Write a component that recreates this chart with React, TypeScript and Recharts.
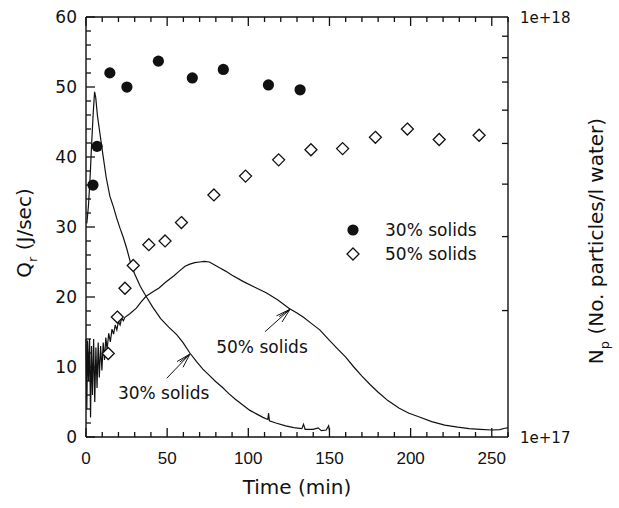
import { ComposedChart, Line, Scatter, XAxis, YAxis } from 'recharts';

// Heat release rate Q_r (J/sec) traces, time in minutes
const time30 = [0.5, 1.5, 2.5, 3.5, 4.5, 5.3, 6, 7, 8.5, 10.5, 12.5, 14.7, 17, 19, 21, 23, 25, 27.8, 30, 33.5, 37, 41, 46, 51, 56, 60, 64, 68, 72, 76, 80, 84, 88, 92, 97, 101, 105, 109, 112, 112.5, 113, 117, 123, 128, 133, 134, 135, 140, 143, 145, 148, 149.5, 150];
const qr30 = [30.5, 33, 37, 42, 46.5, 49.3, 48.5, 46, 43.5, 40.2, 37, 34.4, 32.8, 31.2, 29.8, 28.5, 27, 24.6, 23.3, 21.5, 20.1, 18.6, 16.9, 15.7, 14.6, 13.4, 12, 10.8, 9.7, 8.8, 7.9, 7.1, 6.2, 5.4, 4.5, 3.8, 3.3, 2.8, 2.5, 3.4, 2.3, 2, 1.6, 1.35, 1.2, 1.8, 1.1, 1.1, 1.3, 0.9, 1, 1.6, 0.9];

const time50 = [0, 0.5, 1, 1.6, 2.2, 2.8, 3.4, 4, 4.7, 5.4, 6.1, 6.8, 7.5, 8.2, 9, 9.8, 10.6, 11.4, 12.2, 13, 14, 15, 16, 17, 18, 19, 20, 21, 22, 23, 24, 27, 31, 34, 37, 41, 45, 49, 54, 58, 61, 64, 67, 70, 73, 76, 79, 82, 86, 90, 97, 104, 111, 118, 125, 130, 134, 139, 144, 150, 155, 160, 165, 170, 175, 180, 186, 193, 199, 205, 213, 221, 229, 236, 243, 250, 255, 258, 260];
const qr50 = [14, 4, 13.8, 8, 14, 2.8, 13, 6, 14, 5, 12.8, 7, 13.5, 8.5, 13, 9.5, 13.5, 11, 14.2, 12.5, 14.8, 13.6, 15.4, 14.7, 16, 15.3, 16.5, 16, 17, 16.6, 17.1, 17.6, 18.4, 19.3, 20.1, 20.7, 21.3, 22.1, 23, 23.8, 24.4, 24.7, 24.9, 25, 25.1, 25, 24.6, 24.2, 23.7, 23.1, 22.2, 21.4, 20.6, 19.6, 18.4, 17.7, 17.1, 16.2, 15.3, 13.8, 12.6, 11.4, 10, 8.7, 7.5, 6.4, 5.2, 4.1, 3.4, 2.9, 2.2, 1.7, 1.4, 1.2, 1.1, 1, 1.05, 1.25, 1.3];

// Particle number N_p (No. particles/l water), sampled points
const sampleTime30 = [4.3, 6.8, 14.7, 25.2, 44.6, 65.5, 84.6, 112.4, 131.9];
const np30 = [3.98e17, 4.92e17, 7.36e17, 6.81e17, 7.85e17, 7.16e17, 7.5e17, 6.89e17, 6.71e17];

const sampleTime50 = [13.7, 19.3, 24.0, 29.1, 38.7, 48.7, 58.8, 78.8, 98.3, 118.7, 138.6, 158.1, 178.3, 198.0, 217.6, 242.2];
const np50 = [1.58e17, 1.93e17, 2.26e17, 2.56e17, 2.87e17, 2.93e17, 3.24e17, 3.77e17, 4.18e17, 4.57e17, 4.83e17, 4.86e17, 5.17e17, 5.41e17, 5.11e17, 5.23e17];

const timeTicks = Array.from({ length: 27 }, (_, i) => i * 10);
const qrTicks = Array.from({ length: 31 }, (_, i) => i * 2);
const npTicks = [1e17, 2e17, 3e17, 4e17, 5e17, 6e17, 7e17, 8e17, 9e17, 1e18];

const curve30 = time30.map((t, i) => ({ t, q: qr30[i] }));
const curve50 = time50.map((t, i) => ({ t, q: qr50[i] }));
const points30 = sampleTime30.map((t, i) => ({ t, n: np30[i] }));
const points50 = sampleTime50.map((t, i) => ({ t, n: np50[i] }));

const SANS = '"DejaVu Sans", sans-serif';
const ARIAL = '"Liberation Sans", Arial, sans-serif';
const INK = '#111';

// plot box
const TOP = 17;
const LEFT = 86;
const RIGHT = 508;
const BOTTOM = 437;

// tick-mark placement for the frame overlay (same domains as the axes)
const tx = (t: number) => LEFT + (t / 260) * (RIGHT - LEFT);
const qy = (q: number) => BOTTOM - (q / 60) * (BOTTOM - TOP);
const ny = (n: number) => BOTTOM - Math.log10(n / 1e17) * (BOTTOM - TOP);

const TimeTick = (props: any) => {
    const { x, y, payload } = props;
    const v = payload.value;
    if (v % 50 !== 0 || v > 250) return <g />;
    return (
        <text x={x} y={y + 27} textAnchor="middle" fontFamily={ARIAL} fontSize={17} fill={INK}>
            {v}
        </text>
    );
};

const QrTick = (props: any) => {
    const { x, y, payload } = props;
    const v = payload.value;
    if (v % 10 !== 0) return <g />;
    return (
        <text x={x - 9} y={y + 6} textAnchor="end" fontFamily={SANS} fontSize={17} fill={INK}>
            {v}
        </text>
    );
};

const NpTick = (props: any) => {
    const { x, y, payload } = props;
    const v = payload.value;
    if (v !== 1e17 && v !== 1e18) return <g />;
    return (
        <text x={x + 12} y={y + 6} textAnchor="start" fontFamily={SANS} fontSize={15} fill={INK}>
            {v === 1e18 ? '1e+18' : '1e+17'}
        </text>
    );
};

const Diamond = (props: any) => {
    const { cx, cy } = props;
    const r = 6;
    return (
        <path
            d={`M${cx},${cy - r}L${cx + r},${cy}L${cx},${cy + r}L${cx - r},${cy}Z`}
            fill="#fff"
            stroke={INK}
            strokeWidth={1.3}
        />
    );
};

const Dot = (props: any) => <circle cx={props.cx} cy={props.cy} r={5.6} fill={INK} />;

// note text with an arrow pointing at its curve
function Note({ text, x1, y1, x2, y2 }: { text: string; x1: number; y1: number; x2: number; y2: number }) {
    const ang = Math.atan2(y2 - y1, x2 - x1);
    const barb = (da: number, len: number) => (
        <line
            x1={x2}
            y1={y2}
            x2={x2 - len * Math.cos(ang + da)}
            y2={y2 - len * Math.sin(ang + da)}
            stroke={INK}
            strokeWidth={1}
        />
    );
    return (
        <g>
            <line x1={x1} y1={y1} x2={x2} y2={y2} stroke={INK} strokeWidth={1} />
            {barb(0.28, 15)}
            {barb(-0.28, 15)}
            {barb(0.14, 13)}
            <text x={x1 - 3} y={y1 + 21} textAnchor="middle" fontFamily={SANS} fontSize={17} fill={INK}>
                {text}
            </text>
        </g>
    );
}

export default function App() {
    return (
        <div style={{ position: 'absolute', left: 0, top: 0, width: 619, height: 508, background: '#fff' }}>
            <ComposedChart width={619} height={508} margin={{ top: TOP, right: 0, bottom: 0, left: 0 }}>
                <XAxis
                    xAxisId="b"
                    type="number"
                    dataKey="t"
                    domain={[0, 260]}
                    ticks={timeTicks}
                    interval={0}
                    height={508 - BOTTOM}
                    tickSize={0}
                    tickMargin={0}
                    tickLine={false}
                    tick={<TimeTick />}
                    axisLine={{ stroke: INK, strokeWidth: 1.4 }}
                />
                <YAxis
                    yAxisId="q"
                    type="number"
                    domain={[0, 60]}
                    ticks={qrTicks}
                    interval={0}
                    width={LEFT}
                    tickSize={0}
                    tickMargin={0}
                    tickLine={false}
                    tick={<QrTick />}
                    axisLine={{ stroke: INK, strokeWidth: 1.4 }}
                />
                <YAxis
                    yAxisId="n"
                    orientation="right"
                    type="number"
                    scale="log"
                    domain={[1e17, 1e18]}
                    allowDataOverflow
                    ticks={npTicks}
                    interval={0}
                    width={619 - RIGHT}
                    tickSize={0}
                    tickMargin={0}
                    tickLine={false}
                    tick={<NpTick />}
                    axisLine={{ stroke: INK, strokeWidth: 1.4 }}
                />
                <Line
                    xAxisId="b"
                    yAxisId="q"
                    data={curve30}
                    dataKey="q"
                    type="linear"
                    stroke={INK}
                    strokeWidth={1.2}
                    dot={false}
                    activeDot={false}
                    isAnimationActive={false}
                />
                <Line
                    xAxisId="b"
                    yAxisId="q"
                    data={curve50}
                    dataKey="q"
                    type="linear"
                    stroke={INK}
                    strokeWidth={1.2}
                    dot={false}
                    activeDot={false}
                    isAnimationActive={false}
                />
                <Scatter xAxisId="b" yAxisId="n" data={points30} dataKey="n" shape={<Dot />} isAnimationActive={false} />
                <Scatter xAxisId="b" yAxisId="n" data={points50} dataKey="n" shape={<Diamond />} isAnimationActive={false} />
            </ComposedChart>
            <svg
                width={619}
                height={508}
                style={{ position: 'absolute', left: 0, top: 0, pointerEvents: 'none' }}
            >
                <line x1={LEFT} x2={RIGHT} y1={TOP} y2={TOP} stroke={INK} strokeWidth={1.4} />
                {/* inward tick marks on all four sides */}
                {timeTicks.map((t) => {
                    const len = t % 50 === 0 ? 9 : 5;
                    const x = tx(t);
                    return (
                        <g key={`t${t}`}>
                            <line x1={x} x2={x} y1={BOTTOM} y2={BOTTOM - len} stroke={INK} strokeWidth={1.3} />
                            <line x1={x} x2={x} y1={TOP} y2={TOP + len} stroke={INK} strokeWidth={1.3} />
                        </g>
                    );
                })}
                {qrTicks.map((q) => {
                    const y = qy(q);
                    return <line key={`q${q}`} x1={LEFT} x2={LEFT + (q % 10 === 0 ? 9 : 5)} y1={y} y2={y} stroke={INK} strokeWidth={1.3} />;
                })}
                {npTicks.slice(1, -1).map((n) => {
                    const y = ny(n);
                    return <line key={`n${n}`} x1={RIGHT} x2={RIGHT - 6} y1={y} y2={y} stroke={INK} strokeWidth={1.3} />;
                })}
                <text x={297} y={494} textAnchor="middle" fontFamily={SANS} fontSize={20} fill={INK}>
                    Time (min)
                </text>
                <text transform="translate(31,233) rotate(-90)" textAnchor="middle" fontFamily={SANS} fontSize={20} fill={INK}>
                    Q
                    <tspan dy={6} fontSize={13}>r</tspan>
                    <tspan dy={-6}> (J/sec)</tspan>
                </text>
                <text transform="translate(603,241) rotate(-90)" textAnchor="middle" fontFamily={SANS} fontSize={20} fill={INK}>
                    N
                    <tspan dy={6} fontSize={13}>p</tspan>
                    <tspan dy={-6}> (No. particles/l water)</tspan>
                </text>
                <Note text="30% solids" x1={166.7} y1={378.3} x2={190} y2={354} />
                <Note text="50% solids" x1={265} y1={331.7} x2={290} y2={309.3} />
                <circle cx={353} cy={230} r={5.6} fill={INK} />
                <text x={385} y={236} fontFamily={SANS} fontSize={17} fill={INK}>
                    30% solids
                </text>
                <path d="M353,248L359,254L353,260L347,254Z" fill="#fff" stroke={INK} strokeWidth={1.3} />
                <text x={385} y={260} fontFamily={SANS} fontSize={17} fill={INK}>
                    50% solids
                </text>
            </svg>
        </div>
    );
}
